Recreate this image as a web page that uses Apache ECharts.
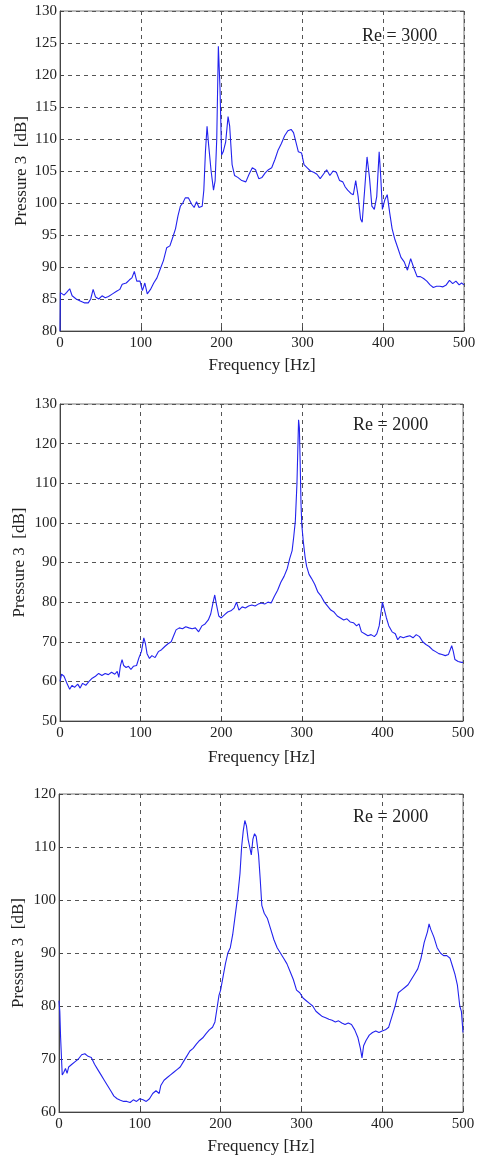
<!DOCTYPE html>
<html>
<head>
<meta charset="utf-8">
<script src="https://cdn.jsdelivr.net/npm/echarts@6/dist/echarts.min.js"></script>
<style>
  html, body { margin: 0; padding: 0; background: #fff; }
  #container { width: 481px; height: 1156px; }
</style>
</head>
<body>
<div id="container"></div>
<script>
var chart = echarts.init(document.getElementById('container'));

// panel 1, Re = 3000
var freq1 = [0, 0.5, 2, 5, 8, 12, 15, 20, 25, 30, 35, 38, 41, 44, 48, 52, 56, 60, 65, 70, 74, 77, 82, 86, 89, 92, 95, 99,
  102, 105, 108, 112, 116, 120, 125, 128, 132, 136, 140, 143, 146, 149, 152, 155, 159, 163, 166, 169, 172, 176, 178,
  180, 182, 184, 187, 190, 192, 194, 196, 198, 200, 202, 205, 208, 210, 213, 216, 220, 225, 230, 234, 238, 242, 246,
  250, 254, 258, 262, 266, 270, 274, 278, 282, 286, 289, 292, 295, 299, 302, 306, 310, 314, 318, 322, 326, 330, 334,
  338, 342, 346, 350, 353, 356, 360, 363, 366, 369, 372, 374, 377, 380, 383, 386, 389, 392, 395, 397, 399, 402, 405,
  408, 411, 414, 418, 422, 426, 430, 434, 438, 442, 446, 450, 454, 458, 462, 466, 470, 474, 478, 482, 486, 490, 494, 497, 500];
var db1 = [80, 86, 86.3, 85.6, 86.0, 86.6, 85.5, 85.0, 84.7, 84.4, 84.4, 85.0, 86.5, 85.3, 85.0, 85.5, 85.2, 85.4, 85.8, 86.2,
  86.5, 87.3, 87.5, 88.0, 88.3, 89.3, 87.8, 87.8, 86.3, 87.5, 85.8, 86.5, 87.5, 88.3, 90.0, 91.0, 93.0, 93.3, 94.8, 96.0,
  98.0, 99.5, 100.0, 100.8, 100.8, 99.8, 99.3, 100.2, 99.3, 99.5, 102, 108, 112.0, 109, 105, 102.0, 103.5, 110, 124.5, 118,
  107.5, 108.0, 109.5, 113.5, 112, 106, 104.3, 104.0, 103.5, 103.3, 104.5, 105.5, 105.2, 103.8, 104.0, 104.7, 105.2, 105.5,
  106.8, 108.3, 109.3, 110.5, 111.3, 111.5, 111.0, 109.5, 108.0, 107.8, 106.0, 105.5, 105.0, 104.8, 104.5, 103.8, 104.5,
  105.2, 104.3, 105.0, 104.8, 103.5, 103.3, 102.5, 102.0, 101.5, 101.3, 103.5, 101.0, 97.5, 97.0, 102, 107.2, 104, 99.5,
  99.0, 101, 108.0, 104, 99.0, 100.5, 101.3, 98.5, 96, 94.5, 93.0, 91.5, 90.8, 89.5, 91.3, 89.8, 88.5, 88.5, 88.2, 87.8,
  87.2, 86.8, 87.0, 87.0, 86.9, 87.2, 87.9, 87.4, 87.8, 87.2, 87.5, 87.2];

// panel 2, Re = 2000
var freq2 = [0, 2, 5, 8, 12, 15, 18, 22, 25, 28, 32, 36, 40, 44, 48, 52, 56, 60, 64, 68, 71, 73, 75, 77, 79, 82, 85, 88,
  91, 95, 98, 101, 104, 106, 108, 111, 114, 118, 122, 126, 130, 134, 138, 141, 144, 148, 152, 156, 160, 164, 168, 172,
  176, 180, 184, 187, 190, 192, 194, 197, 200, 204, 208, 212, 216, 219, 222, 226, 230, 234, 238, 242, 246, 250, 254,
  258, 262, 266, 270, 274, 278, 282, 285, 288, 290, 292, 294, 295, 296, 297, 298, 299, 300, 302, 304, 306, 309, 312,
  316, 320, 324, 328, 332, 336, 340, 344, 348, 352, 356, 360, 364, 368, 371, 374, 378, 382, 386, 390, 393, 396, 398,
  400, 402, 405, 408, 412, 416, 419, 422, 426, 430, 434, 438, 442, 446, 450, 454, 458, 462, 466, 470, 474, 478, 482,
  484, 486, 488, 490, 494, 498, 500];
var db2 = [60.0, 61.8, 61.3, 59.8, 58.0, 59.0, 58.5, 59.3, 58.3, 59.5, 59.0, 60.0, 60.8, 61.3, 62.0, 61.5, 62.0, 61.7, 62.3,
  61.8, 62.5, 61.0, 64.0, 65.5, 64.0, 63.5, 63.8, 63.0, 63.8, 64.0, 66.0, 67.5, 71.0, 69.5, 67.0, 65.8, 66.5, 66.0, 67.5,
  68.0, 68.8, 69.5, 70.0, 71.5, 73.0, 73.5, 73.3, 73.8, 73.5, 73.3, 73.5, 72.5, 74.0, 74.5, 75.5, 77.0, 80.0, 81.8, 79.5,
  76.5, 76.0, 76.8, 77.5, 77.8, 78.5, 80.0, 78.0, 78.8, 78.5, 79.0, 79.3, 79.0, 79.5, 79.8, 79.5, 80.0, 79.8, 81.5, 83.0,
  85.0, 86.5, 88.5, 91.0, 93.0, 96.5, 100.5, 110.0, 118, 126.0, 124, 115, 105, 99.5, 95.0, 91.5, 89.0, 87.0, 86.0, 84.5,
  82.5, 81.5, 80.0, 79.0, 78.0, 77.5, 76.5, 76.0, 75.5, 75.8, 75.0, 74.8, 74.0, 74.5, 72.5, 72.0, 71.5, 71.8, 71.3, 72.0,
  74.0, 77.0, 80.0, 78.5, 76.0, 74.0, 72.5, 72.0, 70.5, 71.3, 71.0, 71.3, 71.5, 71.0, 71.8, 71.3, 70.0, 69.3, 68.8, 68.0,
  67.5, 67.0, 66.8, 66.5, 66.8, 67.3, 69.0, 67.5, 65.5, 65.0, 64.8, 64.8];

// panel 3, Re = 2000
var freq3 = [0, 1, 2, 4, 6, 8, 10, 12, 16, 20, 24, 28, 32, 36, 40, 44, 48, 52, 56, 60, 64, 68, 72, 76, 80, 84, 88, 92, 96,
  100, 104, 108, 112, 116, 120, 124, 126, 130, 134, 138, 142, 146, 150, 154, 158, 162, 166, 170, 174, 178, 182, 186,
  190, 193, 196, 198, 200, 203, 206, 209, 212, 215, 218, 221, 224, 226, 228, 230, 232, 234, 236, 238, 240, 242, 244,
  247, 249, 251, 254, 258, 262, 266, 270, 274, 278, 282, 286, 290, 294, 298, 302, 306, 310, 314, 318, 322, 326, 330,
  334, 338, 342, 346, 350, 354, 358, 362, 366, 370, 373, 375, 377, 380, 384, 388, 392, 396, 400, 404, 408, 412, 416,
  420, 424, 428, 432, 436, 440, 444, 448, 452, 456, 458, 460, 464, 468, 472, 476, 480, 484, 487, 490, 493, 496, 498, 500];
var db3 = [81.0, 79, 74, 67.0, 67.5, 68.2, 67.3, 68.5, 69.0, 69.5, 70.0, 70.8, 71.0, 70.5, 70.3, 69.0, 68.0, 67.0, 66.0,
  65.0, 64.0, 63.0, 62.5, 62.2, 62.0, 62.0, 61.8, 62.3, 62.0, 62.5, 62.3, 62.0, 62.5, 63.5, 64.0, 63.5, 65.0, 66.0, 66.5,
  67.0, 67.5, 68.0, 68.5, 69.5, 70.5, 71.5, 72.0, 72.8, 73.5, 74.0, 74.8, 75.5, 76.0, 77.0, 80.0, 82.0, 83.0, 85.5, 88.0,
  90.0, 91.0, 93.5, 97.0, 100.5, 105.0, 110.0, 113.0, 115.0, 114.0, 111.5, 110.0, 108.5, 111.5, 112.5, 112.0, 108.5, 104,
  99.0, 97.5, 96.5, 94.5, 92.5, 91.0, 90.0, 89.0, 88.0, 86.5, 85.0, 83.0, 82.5, 81.5, 81.0, 80.5, 80.0, 79.0, 78.5, 78.0,
  77.8, 77.5, 77.3, 77.0, 77.2, 76.8, 76.5, 76.8, 76.5, 75.5, 74.0, 72.0, 70.2, 72.5, 73.5, 74.5, 75.0, 75.3, 75.0, 75.3,
  75.5, 76.0, 78.0, 80.0, 82.5, 83.0, 83.5, 84.0, 85.0, 86.0, 87.0, 89.0, 92.0, 94.0, 95.5, 94.5, 93.0, 91.0, 90.0, 89.5,
  89.5, 89.0, 87.5, 86.0, 84.0, 80.0, 79.0, 75.0];

var labels = ['Re = 3000', 'Re = 2000', 'Re = 2000'];
var yRanges = [[80, 130, 5], [50, 130, 10], [60, 120, 10]];

function pairs(f, v) {
  var out = [];
  for (var i = 0; i < f.length; i++) out.push([f[i], v[i]]);
  return out;
}

var font = 'Liberation Serif';
var grids = [
  { left: 60, top: 11, width: 404, height: 320 },
  { left: 60, top: 404, width: 403, height: 317 },
  { left: 59, top: 794, width: 404, height: 319 }
];
var yNameGaps = [30, 32, 32];
var xNameGaps = [26, 28, 26];
var dashLine = { show: true, lineStyle: { color: '#555', type: [4, 4], width: 1 } };

var xAxes = [], yAxes = [], titles = [];
grids.forEach(function (g, i) {
  g.show = true;
  g.borderColor = '#777';
  g.borderWidth = 1;
  xAxes.push({
    type: 'value', gridIndex: i, min: 0, max: 500, interval: 100,
    name: 'Frequency [Hz]', nameLocation: 'middle', nameGap: xNameGaps[i], nameMoveOverlap: false,
    nameTextStyle: { fontFamily: font, fontSize: 17, color: '#222' },
    axisLine: { lineStyle: { color: '#444' } },
    axisTick: { inside: true, length: 4, lineStyle: { color: '#444' } },
    axisLabel: { fontFamily: font, fontSize: 15, color: '#222', margin: 5 },
    splitLine: dashLine
  });
  yAxes.push({
    type: 'value', gridIndex: i, min: yRanges[i][0], max: yRanges[i][1], interval: yRanges[i][2],
    name: 'Pressure 3  [dB]', nameLocation: 'middle', nameGap: yNameGaps[i], nameMoveOverlap: false,
    nameTextStyle: { fontFamily: font, fontSize: 17, color: '#222' },
    axisLine: { show: true, lineStyle: { color: '#444' } },
    axisTick: { show: true, inside: true, length: 4, lineStyle: { color: '#444' } },
    axisLabel: { fontFamily: font, fontSize: 15, color: '#222', margin: 3 },
    splitLine: dashLine
  });
});
titles = [
  { text: labels[0], left: 357, top: 22 },
  { text: labels[1], left: 348, top: 411 },
  { text: labels[2], left: 348, top: 803 }
].map(function (t) {
  t.textStyle = { fontFamily: font, fontSize: 18, fontWeight: 'normal', color: '#222' };
  return t;
});

function line(data, i) {
  return {
    type: 'line', xAxisIndex: i, yAxisIndex: i, data: data,
    showSymbol: false, lineStyle: { color: '#2323ee', width: 1.1 }
  };
}

chart.setOption({
  animation: false,
  title: titles,
  grid: grids,
  xAxis: xAxes,
  yAxis: yAxes,
  series: [
    line(pairs(freq1, db1), 0),
    line(pairs(freq2, db2), 1),
    line(pairs(freq3, db3), 2)
  ]
});
</script>
</body>
</html>
